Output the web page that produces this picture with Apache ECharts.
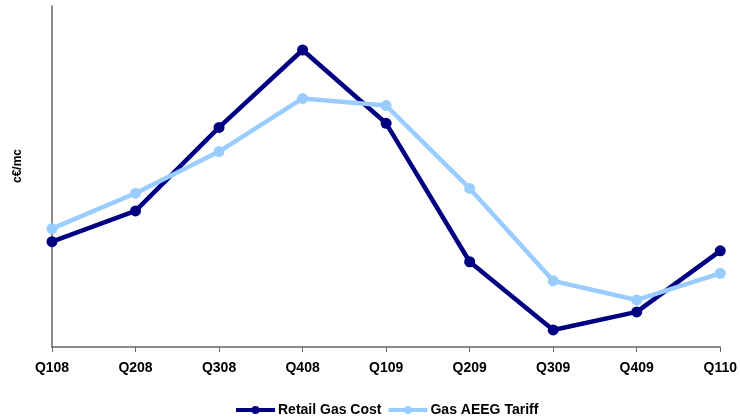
<!DOCTYPE html>
<html>
<head>
<meta charset="utf-8">
<script src="https://cdn.jsdelivr.net/npm/echarts@6/dist/echarts.min.js"></script>
<style>
  html, body { margin: 0; padding: 0; background: #fff; }
  #chart { width: 740px; height: 419px; }
</style>
</head>
<body>
<div id="chart"></div>
<script>
// Quarterly gas cost comparison (index scale, c€/mc)
const quarters = ['Q108', 'Q208', 'Q308', 'Q408', 'Q109', 'Q209', 'Q309', 'Q409', 'Q110'];
const retailGasCost = [3.09, 3.99, 6.44, 8.71, 6.56, 2.50, 0.50, 1.03, 2.82];
const gasAeegTariff = [3.47, 4.51, 5.73, 7.29, 7.08, 4.65, 1.94, 1.38, 2.16];

const NAVY = '#000080';
const LIGHT = '#99CCFF';
const FONT = 'Liberation Sans, Arial, sans-serif';

const chart = echarts.init(document.getElementById('chart'), null, { renderer: 'canvas' });

function lineSeries(name, data, color) {
  return {
    name: name,
    type: 'line',
    data: data,
    symbol: 'circle',
    symbolSize: 11,
    showSymbol: true,
    lineStyle: { color: color, width: 4.5 },
    itemStyle: { color: color },
    emphasis: { disabled: true },
    animation: false
  };
}

chart.setOption({
  animation: false,
  backgroundColor: '#ffffff',
  grid: { left: 52, right: 19, top: 6, bottom: 72, containLabel: false },
  xAxis: {
    type: 'category',
    data: quarters,
    boundaryGap: false,
    axisLine: { lineStyle: { color: '#666666', width: 1.5 } },
    axisTick: { show: true, inside: false, length: 5, lineStyle: { color: '#666666', width: 1 } },
    axisLabel: { color: '#000', fontFamily: FONT, fontWeight: 'bold', fontSize: 14, margin: 14 },
    splitLine: { show: false }
  },
  yAxis: {
    type: 'value',
    min: 0,
    max: 10,
    axisLine: { show: true, lineStyle: { color: '#666666', width: 1.5 } },
    axisTick: { show: false },
    axisLabel: { show: false },
    splitLine: { show: false }
  },
  legend: {
    left: 229,
    top: 398,
    itemWidth: 39,
    itemHeight: 10,
    itemGap: 5,
    lineStyle: { width: 4 },
    textStyle: { color: '#000', fontFamily: FONT, fontWeight: 'bold', fontSize: 14, padding: [0, 0, 0, -2] },
    data: ['Retail Gas Cost', 'Gas AEEG Tariff']
  },
  graphic: [{
    type: 'text',
    x: 18,
    y: 166,
    rotation: Math.PI / 2,
    style: {
      text: 'c€/mc',
      fill: '#000',
      font: 'bold 12px ' + FONT,
      align: 'center',
      verticalAlign: 'middle'
    }
  }],
  series: [
    lineSeries('Retail Gas Cost', retailGasCost, NAVY),
    lineSeries('Gas AEEG Tariff', gasAeegTariff, LIGHT)
  ]
});
</script>
</body>
</html>
